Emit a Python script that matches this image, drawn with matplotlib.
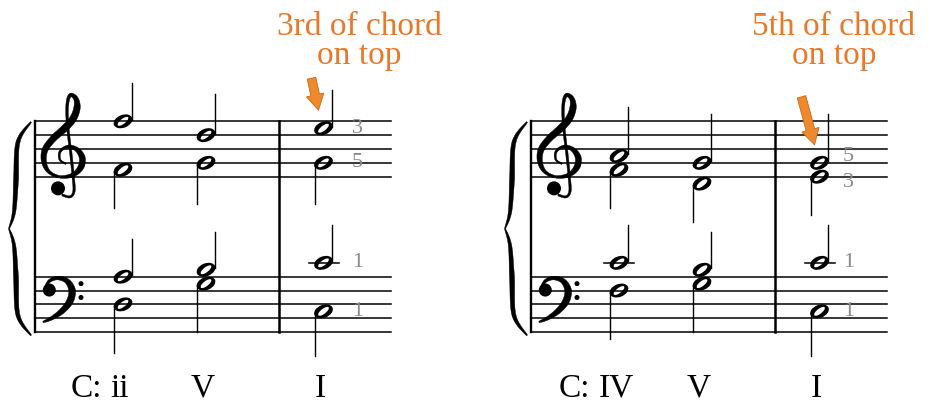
import numpy as np
import matplotlib
matplotlib.use('Agg')
import matplotlib.pyplot as plt
from matplotlib.patches import Ellipse, Polygon, Circle

# chord tones per voice (three chords in each example)
left_soprano = ['F5', 'D5', 'E5']
left_alto = ['F4', 'G4', 'G4']
left_tenor = ['A3', 'B3', 'C4']
left_bass = ['D3', 'G3', 'C3']
left_numerals = ['ii', 'V', 'I']
left_figures = ['3', '5', '1', '1']   # S, A, T, B of the last chord
left_note = ['3rd of chord', 'on top']

right_soprano = ['A4', 'G4', 'G4']
right_alto = ['F4', 'D4', 'E4']
right_tenor = ['C4', 'B3', 'C4']
right_bass = ['F3', 'G3', 'C3']
right_numerals = ['IV', 'V', 'I']
right_figures = ['5', '3', '1', '1']
right_note = ['5th of chord', 'on top']

key_label = 'C:'

ORANGE = '#E8782A'
GREY = '#8a8a8a'
SERIF = ['Liberation Serif', 'DejaVu Serif']

W, H = 932, 407
SP = 13.85                 # staff space in px
TREBLE_TOP = 121.3
BASS_TOP = 276.7
CHORD_DX = [88, 171, 288.5]
BAR_DX = 244
STAFF_LEN = 356

fig = plt.figure(figsize=(W / 100, H / 100), dpi=100)
ax = fig.add_axes([0, 0, 1, 1])
ax.set_xlim(0, W)
ax.set_ylim(H, 0)
ax.axis('off')

LETTERS = 'CDEFGAB'


def step(note):
    return int(note[1]) * 7 + LETTERS.index(note[0])


def pitch_y(note, clef):
    if clef == 'treble':
        return TREBLE_TOP + 4 * SP - (step(note) - 30) * SP / 2
    return BASS_TOP + 4 * SP - (step(note) - 18) * SP / 2


def catmull(points, n=10):
    P = np.asarray(points, float)
    P = np.vstack([P[0], P, P[-1]])
    out = []
    t = np.linspace(0, 1, n, endpoint=False)[:, None]
    for i in range(1, len(P) - 2):
        p0, p1, p2, p3 = P[i - 1], P[i], P[i + 1], P[i + 2]
        out.append(0.5 * (2 * p1 + (-p0 + p2) * t + (2 * p0 - 5 * p1 + 4 * p2 - p3) * t ** 2
                          + (-p0 + 3 * p1 - 3 * p2 + p3) * t ** 3))
    out.append(P[-2][None])
    return np.vstack(out)


def stroke(points, widths, n=10):
    # filled outline of a pen stroke with varying width
    pts = catmull(points, n)
    w = np.interp(np.linspace(0, len(points) - 1, len(pts)), np.arange(len(points)), widths)
    d = np.gradient(pts, axis=0)
    nrm = np.column_stack([-d[:, 1], d[:, 0]]) / np.hypot(d[:, 0], d[:, 1])[:, None]
    poly = np.vstack([pts + nrm * w[:, None] / 2, (pts - nrm * w[:, None] / 2)[::-1]])
    ax.add_patch(Polygon(poly, closed=True, fc='black', ec='black', lw=0.3, zorder=4))


def treble_clef(x0):
    gy = TREBLE_TOP + 3 * SP
    pts = [(27, 32), (35, 34), (39, 28), (38, 12), (36, -8), (33, -33), (32, -51), (33, -63),
           (36, -68), (41, -64), (42, -55), (38, -44), (29, -34), (18, -24), (10, -13), (9, -1),
           (14, 9), (25, 14), (38, 12), (46, 4), (47, -6), (41, -14), (32, -16), (25, -11),
           (25, -3), (31, 1)]
    wid = [2, 2.2, 2.4, 2.4, 2.4, 2.4, 2.5, 3, 3.4, 4.6, 6.5, 7, 7, 6.5, 6, 5,
           3.2, 2.4, 4, 6, 6, 4, 2.8, 2.2, 1.8, 1.4]
    stroke([(x0 + a, gy + b) for a, b in pts], wid)
    ax.add_patch(Circle((x0 + 23, gy + 25.5), 7, fc='black', ec='none', zorder=4))


def bass_clef(x0):
    fy = BASS_TOP + SP
    pts = [(11, -4.5), (15, -10), (23, -12.5), (32, -9.5), (37, -0.5), (35, 10.5),
           (27, 20.5), (17, 27.5), (8, 31.5)]
    wid = [2.4, 3, 3.6, 5, 6.8, 6.8, 5.5, 3.6, 1.4]
    stroke([(x0 + a, fy + b) for a, b in pts], wid)
    ax.add_patch(Circle((x0 + 14.3, fy - 0.5), 6.5, fc='black', ec='none', zorder=4))
    for dy in (-SP / 2, SP / 2):
        ax.add_patch(Circle((x0 + 46, fy + dy), 2.5, fc='black', ec='none', zorder=4))


def brace(x0):
    pts = [(-4, 122), (-17, 142), (-19, 180), (-21, 212), (-26, 228.7)]
    wid = [1.2, 4, 5, 3.4, 0.9]
    mid = 228.7
    stroke([(x0 + a, b) for a, b in pts], wid)
    stroke([(x0 + a, 2 * mid - b) for a, b in pts], wid)


def draw_note(x, note, clef, up):
    y = pitch_y(note, clef)
    ax.add_patch(Ellipse((x, y), 19.5, 12.8, angle=-22, fc='black', ec='none', zorder=2))
    ax.add_patch(Ellipse((x, y), 13, 5.0, angle=-38, fc='white', ec='none', zorder=2.5))
    s = step(note)
    mid = 34 if clef == 'treble' else 22
    away = (s - mid) if up else (mid - s)
    length = (3.5 - 0.25 * np.clip(away, 0, 3)) * SP
    if up:
        ax.plot([x + 8.8] * 2, [y - 1.5, y - length], color='black', lw=1.0, zorder=3)
    else:
        ax.plot([x - 8.8] * 2, [y + 1.5, y + length], color='black', lw=1.0, zorder=3)
    bottom = 30 if clef == 'treble' else 18
    top = TREBLE_TOP if clef == 'treble' else BASS_TOP
    rel = s - bottom
    for k in list(range(10, rel + 1, 2)) + list(range(-2, rel - 1, -2)):
        ly = top + 4 * SP - k * SP / 2
        ax.plot([x - 15, x + 15], [ly, ly], color='black', lw=1.1, zorder=3)
    return y


systems = [
    dict(x0=35, voices=[left_soprano, left_alto, left_tenor, left_bass],
         numerals=left_numerals, figures=left_figures, note=left_note,
         note_x=359, arrow=(-7, -32), fig_dx=34),
    dict(x0=531, voices=[right_soprano, right_alto, right_tenor, right_bass],
         numerals=right_numerals, figures=right_figures, note=right_note,
         note_x=834, arrow=(-13, -48), fig_dx=29),
]

clefs = ['treble', 'treble', 'bass', 'bass']
stems_up = [True, False, True, False]

for sysd in systems:
    x0 = sysd['x0']
    x1 = x0 + STAFF_LEN
    for top in (TREBLE_TOP, BASS_TOP):
        for i in range(5):
            ax.plot([x0, x1], [top + i * SP] * 2, color='black', lw=1.1, zorder=3)
    ax.plot([x0, x0], [TREBLE_TOP, BASS_TOP + 4 * SP], color='black', lw=1.7, zorder=3)
    ax.plot([x0 + BAR_DX] * 2, [TREBLE_TOP, BASS_TOP + 4 * SP], color='black', lw=1.8, zorder=3)
    brace(x0)
    treble_clef(x0)
    bass_clef(x0)

    last_y = []
    for v, notes in enumerate(sysd['voices']):
        for c, note in enumerate(notes):
            y = draw_note(x0 + CHORD_DX[c], note, clefs[v], stems_up[v])
            if c == len(notes) - 1:
                last_y.append(y)

    # figured numbers beside the last chord, pushed apart when close
    fy = list(last_y)
    for a, b in ((0, 1), (2, 3)):
        if abs(fy[b] - fy[a]) < 17:
            m = (fy[a] + fy[b]) / 2
            fy[a], fy[b] = m - 13, m + 13
    for lab, yy in zip(sysd['figures'], fy):
        ax.text(x0 + CHORD_DX[2] + sysd['fig_dx'], yy, lab, fontsize=16, color=GREY,
                family=SERIF, ha='center', va='center', zorder=5)

    # roman numerals
    for c, num in enumerate(sysd['numerals']):
        t = ax.text(x0 + CHORD_DX[c] - 3, 396.7, num, fontsize=24, family=SERIF,
                    ha='center', va='baseline', color='black')
        if c == 0:
            ax.annotate(key_label, xy=(0, 0), xycoords=t, xytext=(-6, 0),
                        textcoords='offset points', fontsize=24, family=SERIF,
                        ha='right', va='bottom', color='black')

    # orange remark and arrow
    ax.text(sysd['note_x'], 35, sysd['note'][0], fontsize=24, family=SERIF,
            color=ORANGE, ha='center', va='baseline')
    ax.text(sysd['note_x'], 64, sysd['note'][1], fontsize=24, family=SERIF,
            color=ORANGE, ha='center', va='baseline')
    tip = (x0 + CHORD_DX[2] - 5, last_y[0] - 18)
    tail = (tip[0] + sysd['arrow'][0], tip[1] + sysd['arrow'][1])
    ax.annotate('', xy=tip, xytext=tail,
                arrowprops=dict(arrowstyle='simple,head_length=0.75,head_width=0.85,tail_width=0.42',
                                fc='#EF8A2C', ec='#C9661C', lw=0.6, mutation_scale=15,
                                shrinkA=0, shrinkB=0), zorder=6)

fig.savefig('out.png', dpi=100)
